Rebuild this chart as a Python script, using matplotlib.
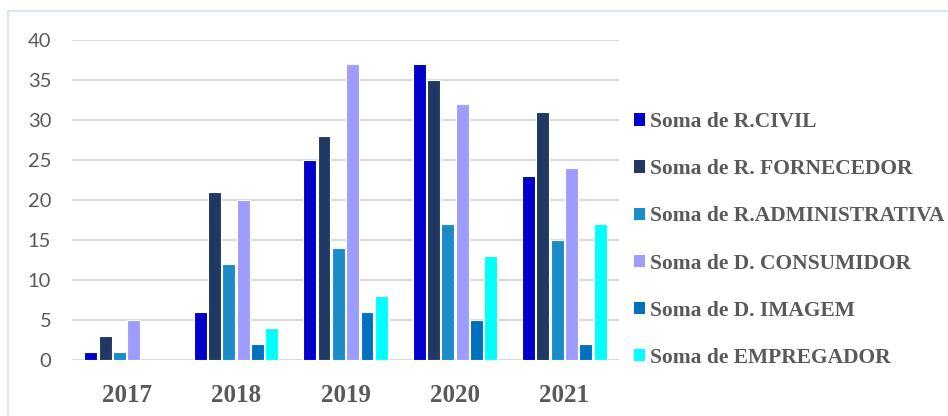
import matplotlib.pyplot as plt
import numpy as np

anos = ['2017', '2018', '2019', '2020', '2021']
series = ['Soma de R.CIVIL', 'Soma de R. FORNECEDOR', 'Soma de R.ADMINISTRATIVA',
          'Soma de D. CONSUMIDOR', 'Soma de D. IMAGEM', 'Soma de EMPREGADOR']
r_civil = [1, 6, 25, 37, 23]
r_fornecedor = [3, 21, 28, 35, 31]
r_administrativa = [1, 12, 14, 17, 15]
d_consumidor = [5, 20, 37, 32, 24]
d_imagem = [0, 2, 6, 5, 2]
empregador = [0, 4, 8, 13, 17]

valores = [r_civil, r_fornecedor, r_administrativa, d_consumidor, d_imagem, empregador]
cores = ['#0000CC', '#1F3864', '#1A8CC9', '#9D9DFF', '#0070C0', '#00FFFF']

cinza = '#595959'

fig = plt.figure(figsize=(9.48, 4.16), dpi=100)
ax = fig.add_axes([72 / 948, 1 - 360 / 416, 547 / 948, 320 / 416])

# moldura clara em volta do grafico
fig.patches.append(plt.Rectangle((8 / 948, -0.1), 1.2, 1 - 11 / 416 + 0.1,
                                 transform=fig.transFigure, fill=False,
                                 edgecolor='#D6E0F2', linewidth=1.2))

x = np.arange(len(anos))
passo = 0.131
for j, (serie, cor) in enumerate(zip(valores, cores)):
    ax.bar(x + (j - 2.5) * passo, serie, width=0.118, color=cor,
           edgecolor='white', linewidth=0.8, label=series[j], zorder=3)

ax.set_xlim(-0.5, 4.5)
ax.set_ylim(0, 40)
ax.set_yticks(range(0, 41, 5))
ax.set_xticks(x)
ax.set_xticklabels(anos, family='Liberation Serif', fontweight='bold',
                   fontsize=18, color=cinza)
for lbl in ax.get_yticklabels():
    lbl.set_family('Lato')
    lbl.set_fontsize(14.5)
    lbl.set_color(cinza)
ax.tick_params(axis='both', length=0)
ax.tick_params(axis='y', pad=15)
ax.tick_params(axis='x', pad=17)
ax.grid(axis='y', color='#D9D9D9', linewidth=1.5, zorder=0)
for s in ax.spines.values():
    s.set_visible(False)

leg = fig.legend(loc='center left', bbox_to_anchor=(634 / 948, 1 - 240 / 416),
                 frameon=False, handlelength=0.52, handleheight=0.52,
                 handletextpad=0.2, labelspacing=1.26, borderpad=0,
                 borderaxespad=0,
                 prop={'family': 'Liberation Serif', 'weight': 'bold', 'size': 15.5})
for t in leg.get_texts():
    t.set_color(cinza)
for h in leg.legend_handles:
    h.set_edgecolor('none')

fig.savefig('out.png', dpi=100)
